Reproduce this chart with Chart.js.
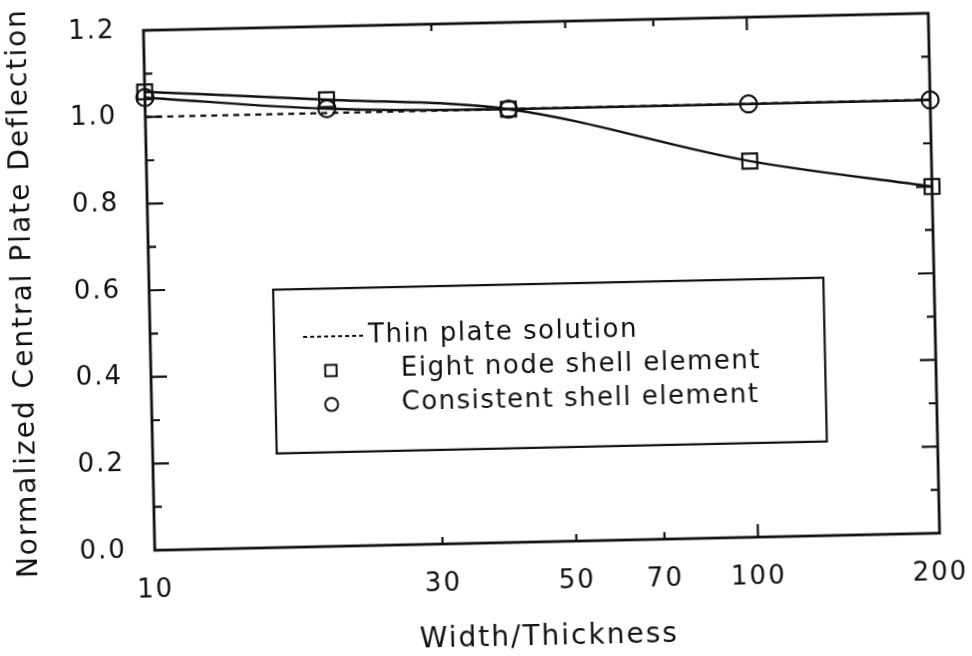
<!DOCTYPE html>
<html>
<head>
<meta charset="utf-8">
<script src="https://cdn.jsdelivr.net/npm/chart.js@4/dist/chart.umd.min.js"></script>
<style>
  html, body { margin:0; padding:0; background:#fff; }
  #wrap { width:972px; height:656px; overflow:hidden; }
  /* scanned figure sits slightly tilted */
  #plate { display:block; transform:rotate(-1.25deg); }
</style>
</head>
<body>
<div id="wrap"><canvas id="plate" width="972" height="656"></canvas></div>
<script>
// data
const widthThickness = [10, 20, 40, 100, 200];
const eightNode   = [1.058, 1.031, 1.0, 0.868, 0.80];
const consistent  = [1.045, 1.010, 1.0, 1.0, 1.0];
const thinX = [10, 200];
const thinY = [1.0, 1.0];

const xTickLabels = [10, 30, 50, 70, 100, 200];
const yTickLabels = [0, 0.2, 0.4, 0.6, 0.8, 1.0, 1.2];
const xMarksShort = [30, 50, 70];
const xMarksLong  = [100];
const yMarksShort = [0.1, 0.3, 0.5, 0.7, 0.9, 1.1];
const yMarksLong  = [0.2, 0.4, 0.6, 0.8, 1.0];

const ink = '#111';
const pts = (xs, ys) => xs.map((x,i)=>({x, y:ys[i]}));

Chart.defaults.font.family = 'DejaVu Sans';
Chart.defaults.color = ink;

// frame + inward ticks on all four sides
const frame = {
  id:'frame',
  beforeDraw(chart){ chart.ctx.letterSpacing = '2px'; },
  afterDatasetsDraw(chart){
    const {ctx, chartArea:a, scales:{x, y}} = chart;
    ctx.save();
    ctx.strokeStyle = ink;
    ctx.lineWidth = 2.8;
    ctx.strokeRect(a.left, a.top, a.right-a.left, a.bottom-a.top);
    ctx.lineWidth = 2.2;
    ctx.beginPath();
    const vt = (vals, len) => vals.forEach(v=>{
      const px = x.getPixelForValue(v);
      ctx.moveTo(px, a.bottom); ctx.lineTo(px, a.bottom-len);
      ctx.moveTo(px, a.top);    ctx.lineTo(px, a.top+len);
    });
    const ht = (vals, len) => vals.forEach(v=>{
      const py = y.getPixelForValue(v);
      ctx.moveTo(a.left, py);  ctx.lineTo(a.left+len, py);
      ctx.moveTo(a.right, py); ctx.lineTo(a.right-len, py);
    });
    vt(xMarksShort, 7); vt(xMarksLong, 13);
    ht(yMarksShort, 8); ht(yMarksLong, 16);
    ctx.stroke();
    ctx.restore();
  }
};

// boxed legend inside the plot
const boxLegend = {
  id:'boxLegend',
  afterDraw(chart){
    const {ctx, chartArea:a} = chart;
    const w = a.right-a.left, h = a.bottom-a.top;
    const bx = a.left + w*0.158, by = a.top + h*0.504;
    const bw = w*0.701, bh = h*0.315;
    ctx.save();
    ctx.strokeStyle = ink;
    ctx.lineWidth = 2.2;
    ctx.strokeRect(bx, by, bw, bh);
    ctx.font = '26px "DejaVu Sans"';
    ctx.letterSpacing = '1.5px';
    ctx.textBaseline = 'middle';
    const rows = [48, 82, 116];
    chart.data.datasets.forEach((ds, i)=>{
      const cy = by + rows[i];
      ctx.fillStyle = ink;
      if (ds.borderDash) {
        ctx.setLineDash([4,3]); ctx.lineWidth = 2;
        ctx.beginPath(); ctx.moveTo(bx+29, cy); ctx.lineTo(bx+89, cy); ctx.stroke();
        ctx.setLineDash([]);
        ctx.fillText(ds.label, bx+94, cy);
      } else {
        ctx.fillText(ds.label, bx+126, cy);
        ctx.fillStyle = 'rgba(0,0,0,0)';
        ctx.lineWidth = 2;
        Chart.helpers.drawPoint(ctx, {pointStyle: ds.pointStyle, radius: ds.pointStyle==='rect' ? 8 : 6.5, borderWidth: 2}, bx+56, cy);
      }
    });
    ctx.restore();
  }
};

new Chart(document.getElementById('plate'), {
  type:'line',
  data:{
    datasets:[
      { label:'Thin plate solution', data:pts(thinX, thinY),
        borderColor:ink, borderWidth:2.2, borderDash:[6,5], pointRadius:0, clip:false },
      { label:'Eight node shell element', data:pts(widthThickness, eightNode),
        borderColor:ink, borderWidth:2.5, cubicInterpolationMode:'monotone',
        pointStyle:'rect', pointRadius:10.5, pointBorderWidth:2.2,
        pointBorderColor:ink, pointBackgroundColor:'transparent', clip:false },
      { label:'Consistent shell element', data:pts(widthThickness, consistent),
        borderColor:ink, borderWidth:2.5, cubicInterpolationMode:'monotone',
        pointStyle:'circle', pointRadius:8.5, pointBorderWidth:2.2,
        pointBorderColor:ink, pointBackgroundColor:'transparent', clip:false }
    ]
  },
  options:{
    responsive:false, animation:false, devicePixelRatio:1,
    layout:{ autoPadding:false, padding:{left:0, right:37, top:23, bottom:0} },
    plugins:{ legend:{display:false}, tooltip:{enabled:false} },
    scales:{
      x:{
        type:'logarithmic', min:10, max:200,
        afterBuildTicks:s=>{ s.ticks = xTickLabels.map(v=>({value:v})); },
        afterFit:s=>{ s.height = 113; s.paddingLeft = 0; s.paddingRight = 0; },
        grid:{display:false}, border:{display:false},
        ticks:{ autoSkip:false, maxRotation:0, padding:17, font:{size:26}, callback:v=>String(v) },
        title:{ display:true, text:'Width/Thickness', font:{size:28}, padding:{top:0, bottom:0} }
      },
      y:{
        type:'linear', min:0, max:1.2,
        afterBuildTicks:s=>{ s.ticks = yTickLabels.map(v=>({value:v})); },
        afterFit:s=>{ s.width = 150; s.paddingTop = 0; s.paddingBottom = 0; },
        grid:{display:false}, border:{display:false},
        ticks:{ padding:20, font:{size:26}, callback:v=>v.toFixed(1) },
        title:{ display:true, text:'Normalized Central Plate Deflection', font:{size:28}, padding:{top:8, bottom:0} }
      }
    }
  },
  plugins:[frame, boxLegend]
});
</script>
</body>
</html>
